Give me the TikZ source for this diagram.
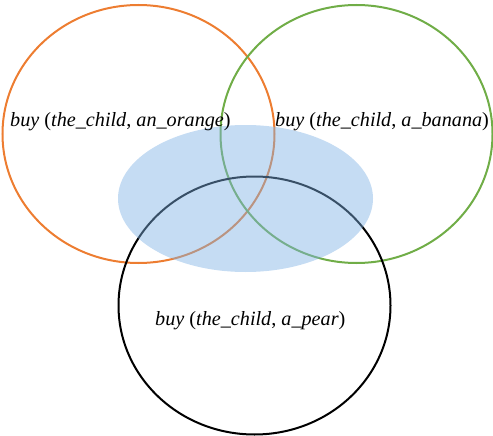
\documentclass[tikz,border=0pt]{standalone}
\usepackage{fontspec}
\setmainfont{Liberation Serif}
\usetikzlibrary{shapes.geometric}
\definecolor{setorange}{RGB}{237,125,49}
\definecolor{setgreen}{RGB}{112,173,71}
\definecolor{overlapblue}{RGB}{126,177,228}
\tikzset{
  setring/.style={ellipse, draw=#1, line width=2pt, inner sep=0pt,
    minimum width=272pt, minimum height=258pt},
  overlap/.style={ellipse, fill=overlapblue, fill opacity=0.45, draw=none,
    inner sep=0pt, minimum width=255pt, minimum height=147pt},
  setlabel/.style={anchor=base west, inner sep=0pt, font=\fontsize{20.2}{22}\selectfont}
}
\newcommand{\fact}[2]{\textit{buy} (\textit{#1}, \textit{#2})}
\begin{document}
\begin{tikzpicture}[x=1pt, y=-1pt]
  \useasboundingbox (0,0) rectangle (493,436);
  % three sets
  \node[setring=setorange] (orange) at (138.5,134) {};
  \node[setring=setgreen]  (banana) at (356.5,134) {};
  \node[setring=black]     (pear)   at (254.5,305.5) {};
  % shared region
  \node[overlap] (common) at (245.5,198.5) {};
  % labels
  \node[setlabel] (lorange) at (10,127) {\fact{the\_child}{an\_orange}};
  \node[setlabel] (lbanana) at (275,127) {\fact{the\_child}{a\_banana}};
  \node[setlabel] (lpear)   at (155,325) {\fact{the\_child}{a\_pear}};
\end{tikzpicture}
\end{document}
